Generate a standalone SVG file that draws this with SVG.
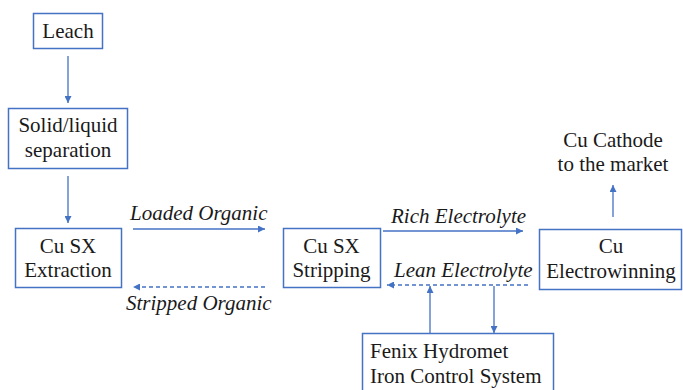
<svg xmlns="http://www.w3.org/2000/svg" width="683" height="390" viewBox="0 0 683 390">
<defs>
<marker id="ah" viewBox="0 0 10 10" refX="10" refY="5" markerWidth="7" markerHeight="7" markerUnits="userSpaceOnUse" orient="auto">
<path d="M0,0 L10,5 L0,10 z" fill="#4472C4"/>
</marker>
<style>
.box{fill:#fff;stroke:#4472C4;stroke-width:1.5}
.t{font-family:"Liberation Serif","Times New Roman",serif;font-size:21px;fill:#1a1a1a}
.c{text-anchor:middle}
.i{font-style:italic}
.ln{stroke:#4472C4;stroke-width:1.3;fill:none;marker-end:url(#ah)}
.d{stroke-dasharray:4 3}
</style>
</defs>
<g id="connectors">
<line class="ln" x1="68" y1="56" x2="68" y2="103"/>
<line class="ln" x1="68" y1="176" x2="68" y2="223"/>
<line class="ln" x1="133" y1="229" x2="265" y2="229"/>
<line class="ln d" x1="265" y1="287" x2="133" y2="287"/>
<line class="ln" x1="383" y1="231" x2="523" y2="231"/>
<line class="ln d" x1="528" y1="285" x2="387" y2="285"/>
<line class="ln" x1="430" y1="333" x2="430" y2="286"/>
<line class="ln" x1="494" y1="286" x2="494" y2="333"/>
<line class="ln" x1="613" y1="217" x2="613" y2="185"/>
</g>
<g id="labels">
<text class="t i" x="130" y="220">Loaded Organic</text>
<text class="t i" x="126" y="310">Stripped Organic</text>
<text class="t i" x="391" y="223">Rich Electrolyte</text>
<text class="t i" x="394" y="277">Lean Electrolyte</text>
</g>
<g id="leach">
<rect class="box" x="33.5" y="13.5" width="69" height="35"/>
<text class="t c" x="68" y="38">Leach</text>
</g>
<g id="solid-liquid">
<rect class="box" x="8.5" y="108.5" width="119" height="60"/>
<text class="t c" x="68" y="132">Solid/liquid</text>
<text class="t c" x="68" y="157">separation</text>
</g>
<g id="extraction">
<rect class="box" x="15.5" y="228.5" width="106" height="59"/>
<text class="t c" x="68" y="253">Cu SX</text>
<text class="t c" x="68" y="277">Extraction</text>
</g>
<g id="stripping">
<rect class="box" x="283.5" y="228.5" width="97" height="59"/>
<text class="t c" x="331.5" y="253">Cu SX</text>
<text class="t c" x="331.5" y="277">Stripping</text>
</g>
<g id="electrowinning">
<rect class="box" x="539.5" y="229.5" width="142" height="60"/>
<text class="t c" x="611" y="253">Cu</text>
<text class="t c" x="611" y="278">Electrowinning</text>
</g>
<g id="cathode">
<text class="t c" x="613" y="147">Cu Cathode</text>
<text class="t c" x="613" y="171">to the market</text>
</g>
<g id="fenix">
<rect class="box" x="362.5" y="333.5" width="191" height="70"/>
<text class="t" x="370" y="358">Fenix Hydromet</text>
<text class="t" x="370" y="383">Iron Control System</text>
</g>
</svg>
